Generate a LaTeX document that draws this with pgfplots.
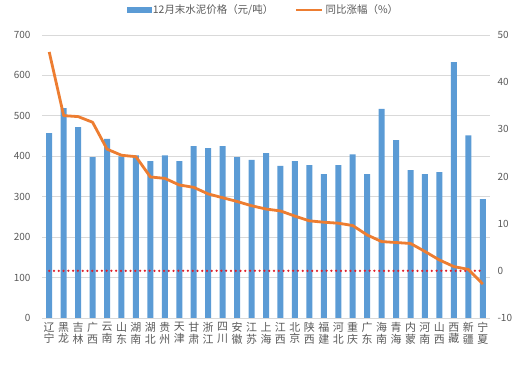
\documentclass[border=0pt]{standalone}
\usepackage{fontspec}
\setmainfont{Noto Sans CJK SC}
\usepackage{pgfplots}
\usepackage{pgfplotstable}
\pgfplotsset{compat=1.18}
\definecolor{barblue}{HTML}{5B9BD5}
\definecolor{lineorange}{HTML}{ED7D31}
\definecolor{gridgray}{HTML}{D9D9D9}
\definecolor{txtgray}{HTML}{595959}
\definecolor{dotred}{HTML}{E0202A}

\pgfplotstableread{
x price chg
0 457 46.4
1 519 32.9
2 472 32.7
3 398 31.5
4 443 25.8
5 400 24.5
6 402 24.2
7 388 19.9
8 402 19.6
9 388 18.2
10 425 17.7
11 420 16.3
12 425 15.5
13 398 14.7
14 391 13.8
15 408 13.1
16 376 12.7
17 388 11.6
18 378 10.6
19 356 10.3
20 378 10.1
21 405 9.6
22 356 7.6
23 517 6.2
24 440 6.0
25 366 5.8
26 356 4.1
27 361 2.3
28 633 0.9
29 452 0.3
30 294 -2.8
}\datatable

\pgfplotsset{common/.style={
  scale only axis, width=448bp, height=283bp,
  xmin=-0.5, xmax=30.5,
  axis line style={draw=none},
  major tick length=0pt,
  tick label style={font=\fontsize{10}{12}\selectfont, text=txtgray},
  /pgf/number format/assume math mode=true,
}}

\begin{document}
\begin{tikzpicture}
\begin{axis}[common,
  ymin=0, ymax=700, ytick={0,100,...,700},
  ymajorgrids, grid style={gridgray, line width=0.8bp},
  yticklabel style={xshift=-8bp},
  xtick={0,...,30},
  xticklabels={{辽\\宁},{黑\\龙},{吉\\林},{广\\西},{云\\南},{山\\东},{湖\\南},{湖\\北},{贵\\州},{天\\津},{甘\\肃},{浙\\江},{四\\川},{安\\徽},{江\\苏},{上\\海},{江\\西},{北\\京},{陕\\西},{福\\建},{河\\北},{重\\庆},{广\\东},{海\\南},{青\\海},{内\\蒙},{河\\南},{山\\西},{西\\藏},{新\\疆},{宁\\夏}},
  xticklabel style={align=center, font=\fontsize{11}{11.5}\selectfont, text=txtgray, yshift=-1bp},
  ybar, bar width=6bp,
]
\addplot[fill=barblue, draw=none, bar shift=0pt] table[x=x, y=price] {\datatable};
\coordinate (sw) at (rel axis cs:0,0);
\coordinate (ne) at (rel axis cs:1,1);
\end{axis}
\begin{axis}[common,
  ymin=-10, ymax=50, ytick={-10,0,...,50},
  axis y line*=right, axis x line=none,
  xtick=\empty,
  yticklabel style={xshift=4bp},
  legend columns=2,
  legend style={at={(0.494,1)}, anchor=center, yshift=25bp, draw=none, fill=none,
    font=\fontsize{10.5}{12}\selectfont, text=txtgray,
    /tikz/every even column/.append style={column sep=20bp}},
]
\addlegendimage{legend image code/.code={\fill[barblue] (0bp,-2.5bp) rectangle (24bp,2.5bp);}}
\addlegendentry{12月末水泥价格（元/吨）}
\addplot[dotred, line width=2.5bp, line cap=round, dash pattern=on 0pt off 4.8pt, forget plot] coordinates {(0,0) (29.8,0)};
\addplot[lineorange, line width=2.8bp, line join=round, no markers,
  legend image code/.code={\draw[lineorange, line width=2.5bp] (0bp,0bp) -- (26bp,0bp);}] table[x=x, y=chg] {\datatable};
\addlegendentry{同比涨幅（\%）}
\end{axis}
\path ([shift={(-42bp,-49bp)}]sw) rectangle ([shift={(33bp,35bp)}]ne);
\end{tikzpicture}
\end{document}
